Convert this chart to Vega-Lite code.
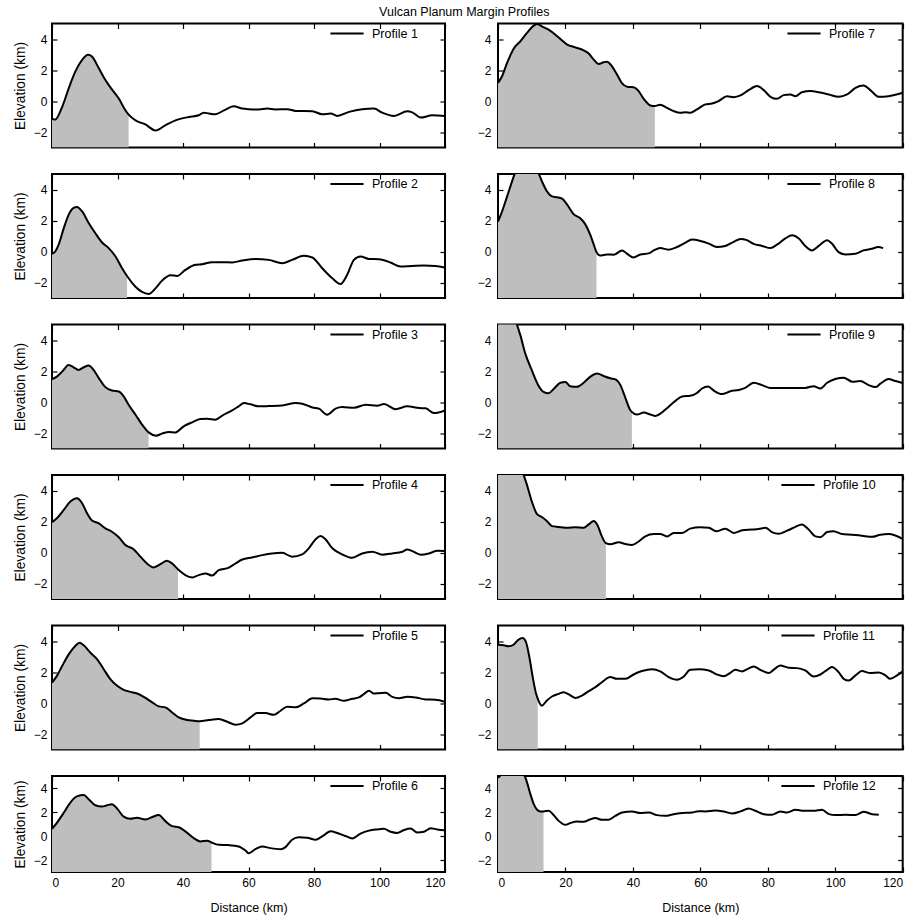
{
"$schema": "https://vega.github.io/schema/vega-lite/v6.json",
"padding": {"left": 12, "top": 5.5, "right": 5, "bottom": 2},
"title": {"text": "Vulcan Planum Margin Profiles", "fontSize": 12.5, "fontWeight": "normal", "color": "black", "offset": -3.5, "dx": 6, "anchor": "middle"},
"config": {
  "font": "Liberation Sans",
  "view": {"stroke": "black", "strokeWidth": 2},
  "axis": {"domain": false, "grid": false, "tickColor": "black", "tickWidth": 1.2, "tickSize": -5, "labelFontSize": 12, "labelColor": "black", "titleFontSize": 12.5, "titleFontWeight": "normal", "titleColor": "black", "labelPadding": 10},
  "axisLeft": {"titleFontSize": 13.8},
  "legend": {"symbolType": "stroke", "symbolSize": 1100, "symbolStrokeWidth": 2, "labelFontSize": 12.5, "labelColor": "black", "labelOffset": 7, "padding": 0, "orient": "none"}
},
"datasets": {
"p1": [{"d":0,"e":-1.14},{"d":1.0,"e":-1.20},{"d":3.1,"e":-0.38},{"d":5.1,"e":0.81},{"d":7.1,"e":1.90},{"d":9.2,"e":2.65},{"d":11.0,"e":2.98},{"d":12.2,"e":2.87},{"d":14.3,"e":2.11},{"d":16.3,"e":1.35},{"d":18.3,"e":0.75},{"d":20.4,"e":0.16},{"d":22.4,"e":-0.60},{"d":23.4,"e":-0.88},{"d":25.5,"e":-1.25},{"d":28.5,"e":-1.51},{"d":31.6,"e":-1.90},{"d":34.6,"e":-1.57},{"d":37.7,"e":-1.25},{"d":41.8,"e":-1.03},{"d":44.8,"e":-0.92},{"d":46.3,"e":-0.75},{"d":47.9,"e":-0.81},{"d":49.9,"e":-0.86},{"d":52.5,"e":-0.60},{"d":55.5,"e":-0.34},{"d":58.1,"e":-0.49},{"d":60.1,"e":-0.53},{"d":63.2,"e":-0.55},{"d":65.7,"e":-0.49},{"d":68.2,"e":-0.55},{"d":71.8,"e":-0.53},{"d":74.4,"e":-0.64},{"d":79.5,"e":-0.66},{"d":82.5,"e":-0.86},{"d":85.1,"e":-0.81},{"d":87.1,"e":-0.96},{"d":90.7,"e":-0.70},{"d":94.7,"e":-0.53},{"d":98.3,"e":-0.49},{"d":100.8,"e":-0.75},{"d":104.4,"e":-0.96},{"d":108.5,"e":-0.66},{"d":110.0,"e":-0.73},{"d":112.6,"e":-1.07},{"d":116.1,"e":-0.92},{"d":120,"e":-0.96}],
"p2": [{"d":0,"e":-0.15},{"d":1.0,"e":0},{"d":2.0,"e":0.43},{"d":3.6,"e":1.51},{"d":5.1,"e":2.38},{"d":6.6,"e":2.81},{"d":7.6,"e":2.87},{"d":9.2,"e":2.59},{"d":11.2,"e":1.84},{"d":13.2,"e":1.19},{"d":15.3,"e":0.58},{"d":17.3,"e":0.22},{"d":19.4,"e":-0.32},{"d":21.4,"e":-1.08},{"d":22.9,"e":-1.58},{"d":25.5,"e":-2.27},{"d":27.5,"e":-2.61},{"d":29.5,"e":-2.74},{"d":31.6,"e":-2.38},{"d":33.6,"e":-1.88},{"d":36.2,"e":-1.53},{"d":38.2,"e":-1.58},{"d":40.7,"e":-1.19},{"d":43.8,"e":-0.86},{"d":45.8,"e":-0.82},{"d":48.9,"e":-0.69},{"d":52.0,"e":-0.69},{"d":55.0,"e":-0.71},{"d":58.1,"e":-0.58},{"d":62.1,"e":-0.48},{"d":66.2,"e":-0.54},{"d":70.3,"e":-0.76},{"d":73.3,"e":-0.54},{"d":76.9,"e":-0.28},{"d":79.5,"e":-0.39},{"d":82.5,"e":-1.08},{"d":85.6,"e":-1.73},{"d":88.1,"e":-2.10},{"d":90.1,"e":-1.51},{"d":92.2,"e":-0.54},{"d":94.2,"e":-0.32},{"d":96.8,"e":-0.48},{"d":99.8,"e":-0.50},{"d":103.4,"e":-0.71},{"d":106.4,"e":-0.97},{"d":110.0,"e":-0.93},{"d":113.6,"e":-0.91},{"d":117.1,"e":-0.93},{"d":120,"e":-1.04}],
"p3": [{"d":0,"e":1.47},{"d":1.5,"e":1.64},{"d":3.1,"e":1.96},{"d":5.1,"e":2.39},{"d":6.6,"e":2.24},{"d":8.1,"e":2.07},{"d":9.7,"e":2.24},{"d":11.2,"e":2.35},{"d":12.7,"e":2.07},{"d":14.3,"e":1.54},{"d":16.3,"e":0.96},{"d":18.3,"e":0.74},{"d":20.4,"e":0.68},{"d":21.9,"e":0.36},{"d":23.4,"e":-0.18},{"d":25.5,"e":-0.82},{"d":27.5,"e":-1.46},{"d":29.5,"e":-1.96},{"d":31.8,"e":-2.17},{"d":33.6,"e":-2.04},{"d":35.7,"e":-1.93},{"d":37.7,"e":-1.96},{"d":40.2,"e":-1.57},{"d":42.8,"e":-1.31},{"d":45.3,"e":-1.10},{"d":47.4,"e":-1.08},{"d":49.9,"e":-1.14},{"d":52.0,"e":-0.88},{"d":55.0,"e":-0.54},{"d":57.0,"e":-0.28},{"d":58.6,"e":-0.07},{"d":60.6,"e":-0.15},{"d":63.2,"e":-0.28},{"d":66.2,"e":-0.26},{"d":70.3,"e":-0.22},{"d":74.4,"e":-0.07},{"d":76.4,"e":-0.11},{"d":79.5,"e":-0.35},{"d":81.5,"e":-0.43},{"d":84.0,"e":-0.82},{"d":86.6,"e":-0.43},{"d":88.6,"e":-0.33},{"d":92.2,"e":-0.37},{"d":95.8,"e":-0.18},{"d":99.3,"e":-0.24},{"d":101.4,"e":-0.13},{"d":104.9,"e":-0.46},{"d":108.5,"e":-0.28},{"d":112.1,"e":-0.39},{"d":114.1,"e":-0.41},{"d":116.6,"e":-0.71},{"d":120,"e":-0.54}],
"p4": [{"d":0,"e":1.95},{"d":1.5,"e":2.21},{"d":3.6,"e":2.75},{"d":5.6,"e":3.29},{"d":7.6,"e":3.50},{"d":9.2,"e":3.18},{"d":10.7,"e":2.53},{"d":12.2,"e":2.06},{"d":14.3,"e":1.88},{"d":16.3,"e":1.56},{"d":18.3,"e":1.34},{"d":20.4,"e":0.98},{"d":22.4,"e":0.48},{"d":25.0,"e":0.20},{"d":27.0,"e":-0.27},{"d":29.0,"e":-0.71},{"d":31.1,"e":-0.96},{"d":33.1,"e":-0.75},{"d":35.1,"e":-0.53},{"d":36.7,"e":-0.71},{"d":38.5,"e":-1.09},{"d":40.7,"e":-1.46},{"d":42.8,"e":-1.61},{"d":44.8,"e":-1.46},{"d":46.9,"e":-1.35},{"d":48.9,"e":-1.49},{"d":50.9,"e":-1.14},{"d":54.0,"e":-0.98},{"d":56.0,"e":-0.71},{"d":58.1,"e":-0.45},{"d":61.1,"e":-0.32},{"d":64.2,"e":-0.17},{"d":67.2,"e":-0.06},{"d":70.3,"e":-0.02},{"d":73.3,"e":-0.27},{"d":76.4,"e":-0.12},{"d":78.4,"e":0.27},{"d":80.5,"e":0.85},{"d":82.0,"e":1.06},{"d":83.5,"e":0.85},{"d":85.6,"e":0.27},{"d":88.6,"e":-0.12},{"d":91.7,"e":-0.34},{"d":94.7,"e":-0.06},{"d":97.8,"e":0.05},{"d":100.8,"e":-0.14},{"d":103.9,"e":-0.06},{"d":107.0,"e":0.05},{"d":108.5,"e":0.20},{"d":110.0,"e":0.09},{"d":112.6,"e":-0.14},{"d":115.1,"e":-0.06},{"d":117.7,"e":0.11},{"d":120,"e":0.09}],
"p5": [{"d":0,"e":1.32},{"d":1.5,"e":1.75},{"d":3.1,"e":2.39},{"d":5.1,"e":3.14},{"d":7.1,"e":3.68},{"d":8.4,"e":3.89},{"d":9.7,"e":3.72},{"d":11.7,"e":3.25},{"d":13.8,"e":2.82},{"d":15.8,"e":2.18},{"d":17.8,"e":1.54},{"d":19.9,"e":1.11},{"d":21.9,"e":0.85},{"d":23.9,"e":0.72},{"d":26.0,"e":0.61},{"d":28.0,"e":0.40},{"d":30.6,"e":0.04},{"d":32.6,"e":-0.22},{"d":34.6,"e":-0.28},{"d":36.7,"e":-0.61},{"d":38.7,"e":-0.93},{"d":41.3,"e":-1.10},{"d":43.3,"e":-1.14},{"d":45.1,"e":-1.18},{"d":47.9,"e":-1.10},{"d":50.9,"e":-1.04},{"d":53.5,"e":-1.21},{"d":56.0,"e":-1.40},{"d":58.1,"e":-1.31},{"d":60.6,"e":-0.93},{"d":62.6,"e":-0.65},{"d":65.2,"e":-0.65},{"d":67.7,"e":-0.76},{"d":69.8,"e":-0.50},{"d":71.8,"e":-0.24},{"d":74.4,"e":-0.28},{"d":76.9,"e":-0.03},{"d":79.5,"e":0.31},{"d":82.0,"e":0.29},{"d":84.5,"e":0.23},{"d":86.6,"e":0.27},{"d":89.1,"e":0.14},{"d":91.7,"e":0.27},{"d":93.7,"e":0.36},{"d":95.2,"e":0.57},{"d":96.8,"e":0.79},{"d":98.3,"e":0.61},{"d":99.8,"e":0.63},{"d":101.9,"e":0.66},{"d":103.9,"e":0.40},{"d":105.9,"e":0.31},{"d":108.5,"e":0.40},{"d":111.0,"e":0.36},{"d":114.1,"e":0.23},{"d":117.1,"e":0.21},{"d":120,"e":0.08}],
"p6": [{"d":0,"e":0.59},{"d":1.5,"e":1.10},{"d":3.6,"e":1.94},{"d":5.6,"e":2.79},{"d":7.6,"e":3.30},{"d":9.7,"e":3.41},{"d":11.2,"e":3.07},{"d":13.2,"e":2.56},{"d":15.3,"e":2.45},{"d":16.8,"e":2.56},{"d":18.3,"e":2.65},{"d":19.9,"e":2.28},{"d":21.9,"e":1.61},{"d":23.9,"e":1.44},{"d":26.0,"e":1.52},{"d":28.5,"e":1.38},{"d":30.6,"e":1.58},{"d":32.6,"e":1.75},{"d":34.6,"e":1.24},{"d":36.7,"e":0.82},{"d":38.7,"e":0.73},{"d":40.7,"e":0.39},{"d":43.3,"e":-0.17},{"d":45.3,"e":-0.45},{"d":47.4,"e":-0.39},{"d":48.7,"e":-0.54},{"d":50.9,"e":-0.73},{"d":54.0,"e":-0.76},{"d":57.0,"e":-0.87},{"d":59.1,"e":-1.21},{"d":60.1,"e":-1.44},{"d":62.1,"e":-1.10},{"d":64.2,"e":-0.87},{"d":66.7,"e":-1.01},{"d":69.8,"e":-1.10},{"d":71.3,"e":-0.93},{"d":73.3,"e":-0.31},{"d":75.4,"e":-0.11},{"d":77.9,"e":-0.14},{"d":80.5,"e":-0.31},{"d":82.5,"e":-0.03},{"d":85.1,"e":0.39},{"d":87.1,"e":0.25},{"d":89.6,"e":0.0},{"d":91.7,"e":-0.2},{"d":94.2,"e":0.2},{"d":96.8,"e":0.45},{"d":99.3,"e":0.55},{"d":101.3,"e":0.6},{"d":103.4,"e":0.35},{"d":105.4,"e":0.25},{"d":107.5,"e":0.5},{"d":109.5,"e":0.62},{"d":111.5,"e":0.3},{"d":113.6,"e":0.35},{"d":115.6,"e":0.65},{"d":117.6,"e":0.55},{"d":120,"e":0.48}],
"p7": [{"d":0,"e":1.17},{"d":1.2,"e":1.60},{"d":2.7,"e":2.46},{"d":4.6,"e":3.36},{"d":6.6,"e":3.85},{"d":8.6,"e":4.39},{"d":10.6,"e":4.86},{"d":11.6,"e":4.97},{"d":13.0,"e":4.82},{"d":15.0,"e":4.60},{"d":17.0,"e":4.28},{"d":18.5,"e":4.00},{"d":20.5,"e":3.64},{"d":22.9,"e":3.46},{"d":25.4,"e":3.27},{"d":26.9,"e":3.06},{"d":28.4,"e":2.67},{"d":29.9,"e":2.39},{"d":31.3,"e":2.50},{"d":32.3,"e":2.54},{"d":33.8,"e":2.24},{"d":35.3,"e":1.71},{"d":36.8,"e":1.13},{"d":38.3,"e":0.92},{"d":40.2,"e":0.89},{"d":41.7,"e":0.64},{"d":43.2,"e":0.14},{"d":45.2,"e":-0.29},{"d":46.5,"e":-0.33},{"d":48.1,"e":-0.24},{"d":50.1,"e":-0.44},{"d":52.1,"e":-0.65},{"d":54.1,"e":-0.76},{"d":55.6,"e":-0.72},{"d":57.0,"e":-0.76},{"d":59.0,"e":-0.54},{"d":61.5,"e":-0.22},{"d":63.5,"e":-0.16},{"d":65.4,"e":-0.01},{"d":67.9,"e":0.31},{"d":69.9,"e":0.25},{"d":71.9,"e":0.36},{"d":74.3,"e":0.70},{"d":76.8,"e":0.96},{"d":78.8,"e":0.70},{"d":80.8,"e":0.27},{"d":82.7,"e":0.14},{"d":84.7,"e":0.38},{"d":86.7,"e":0.42},{"d":88.2,"e":0.31},{"d":90.1,"e":0.57},{"d":92.6,"e":0.64},{"d":95.1,"e":0.57},{"d":98.1,"e":0.42},{"d":101.0,"e":0.27},{"d":103.5,"e":0.42},{"d":106.0,"e":0.85},{"d":108.4,"e":1.00},{"d":110.4,"e":0.70},{"d":112.9,"e":0.27},{"d":115.8,"e":0.31},{"d":117.8,"e":0.40},{"d":120,"e":0.53}],
"p8": [{"d":0,"e":1.93},{"d":1.2,"e":2.58},{"d":2.7,"e":3.56},{"d":4.2,"e":4.54},{"d":5.1,"e":5.09},{"d":6.1,"e":5.35},{"d":8.1,"e":5.45},{"d":10.6,"e":5.35},{"d":11.9,"e":5.09},{"d":13.0,"e":4.54},{"d":14.5,"e":3.89},{"d":16.0,"e":3.56},{"d":17.5,"e":3.50},{"d":19.0,"e":3.41},{"d":20.5,"e":3.02},{"d":22.4,"e":2.41},{"d":24.4,"e":2.14},{"d":25.9,"e":1.75},{"d":27.4,"e":1.05},{"d":28.4,"e":0.44},{"d":29.2,"e":-0.04},{"d":30.3,"e":-0.26},{"d":32.3,"e":-0.19},{"d":34.3,"e":-0.21},{"d":36.8,"e":0.07},{"d":38.3,"e":-0.15},{"d":40.2,"e":-0.39},{"d":42.2,"e":-0.19},{"d":44.7,"e":-0.12},{"d":46.2,"e":0.07},{"d":48.1,"e":0.22},{"d":50.6,"e":0.12},{"d":53.1,"e":0.29},{"d":55.6,"e":0.57},{"d":57.5,"e":0.77},{"d":60.0,"e":0.68},{"d":62.5,"e":0.51},{"d":64.9,"e":0.29},{"d":67.4,"e":0.36},{"d":69.9,"e":0.62},{"d":71.9,"e":0.81},{"d":73.8,"e":0.73},{"d":75.8,"e":0.49},{"d":78.3,"e":0.36},{"d":80.8,"e":0.22},{"d":82.7,"e":0.44},{"d":85.2,"e":0.84},{"d":87.2,"e":1.05},{"d":89.2,"e":0.84},{"d":91.1,"e":0.36},{"d":93.1,"e":0.07},{"d":95.1,"e":0.36},{"d":97.6,"e":0.73},{"d":99.0,"e":0.51},{"d":101.0,"e":-0.04},{"d":103.0,"e":-0.19},{"d":106.0,"e":-0.15},{"d":108.4,"e":0.07},{"d":110.9,"e":0.18},{"d":112.7,"e":0.29},{"d":114.2,"e":0.22}],
"p9": [{"d":0,"e":7.5},{"d":3.0,"e":6.3},{"d":5.6,"e":5.0},{"d":6.6,"e":4.33},{"d":8.1,"e":3.12},{"d":10.1,"e":2.01},{"d":12.1,"e":1.02},{"d":13.5,"e":0.65},{"d":15.0,"e":0.56},{"d":16.5,"e":0.84},{"d":18.5,"e":1.24},{"d":20.0,"e":1.29},{"d":21.4,"e":1.02},{"d":23.4,"e":0.98},{"d":25.4,"e":1.24},{"d":27.4,"e":1.64},{"d":29.4,"e":1.84},{"d":31.3,"e":1.68},{"d":33.3,"e":1.53},{"d":34.8,"e":1.46},{"d":36.3,"e":1.09},{"d":37.8,"e":0.25},{"d":39.2,"e":-0.52},{"d":39.7,"e":-0.65},{"d":41.2,"e":-0.81},{"d":43.2,"e":-0.68},{"d":45.2,"e":-0.81},{"d":46.7,"e":-0.90},{"d":48.6,"e":-0.68},{"d":50.6,"e":-0.30},{"d":52.6,"e":0.07},{"d":54.6,"e":0.36},{"d":57.0,"e":0.40},{"d":59.0,"e":0.58},{"d":60.5,"e":0.87},{"d":62.3,"e":1.00},{"d":64.0,"e":0.73},{"d":66.4,"e":0.51},{"d":68.9,"e":0.69},{"d":71.4,"e":0.78},{"d":73.3,"e":0.91},{"d":75.8,"e":1.24},{"d":78.3,"e":1.09},{"d":80.8,"e":0.91},{"d":84.2,"e":0.91},{"d":88.2,"e":0.91},{"d":91.1,"e":0.91},{"d":93.6,"e":1.02},{"d":95.6,"e":0.87},{"d":97.6,"e":1.24},{"d":100.0,"e":1.48},{"d":102.5,"e":1.57},{"d":105.0,"e":1.31},{"d":107.4,"e":1.35},{"d":109.9,"e":1.09},{"d":111.9,"e":0.96},{"d":113.4,"e":1.18},{"d":115.8,"e":1.48},{"d":117.8,"e":1.35},{"d":120,"e":1.22}],
"p10": [{"d":0,"e":7.0},{"d":4.0,"e":6.0},{"d":7.6,"e":5.0},{"d":8.6,"e":4.35},{"d":10.1,"e":3.24},{"d":11.6,"e":2.47},{"d":13.0,"e":2.29},{"d":14.5,"e":2.03},{"d":16.0,"e":1.70},{"d":18.0,"e":1.65},{"d":20.5,"e":1.59},{"d":22.9,"e":1.63},{"d":25.4,"e":1.59},{"d":26.9,"e":1.81},{"d":28.4,"e":2.03},{"d":29.4,"e":1.81},{"d":30.8,"e":1.04},{"d":32.0,"e":0.60},{"d":33.3,"e":0.53},{"d":35.8,"e":0.66},{"d":37.8,"e":0.55},{"d":39.7,"e":0.49},{"d":41.7,"e":0.71},{"d":43.7,"e":1.04},{"d":46.2,"e":1.19},{"d":48.1,"e":1.19},{"d":50.1,"e":1.04},{"d":52.1,"e":1.26},{"d":54.6,"e":1.26},{"d":57.0,"e":1.54},{"d":60.0,"e":1.63},{"d":62.5,"e":1.59},{"d":64.9,"e":1.37},{"d":67.4,"e":1.54},{"d":69.9,"e":1.26},{"d":72.4,"e":1.43},{"d":75.3,"e":1.48},{"d":77.3,"e":1.52},{"d":79.3,"e":1.59},{"d":81.2,"e":1.32},{"d":83.2,"e":1.21},{"d":85.7,"e":1.41},{"d":88.2,"e":1.65},{"d":90.1,"e":1.81},{"d":92.1,"e":1.48},{"d":94.1,"e":1.04},{"d":95.6,"e":0.99},{"d":97.6,"e":1.32},{"d":99.5,"e":1.37},{"d":102.0,"e":1.19},{"d":105.0,"e":1.15},{"d":107.9,"e":1.08},{"d":110.9,"e":1.01},{"d":113.4,"e":1.15},{"d":115.8,"e":1.19},{"d":117.8,"e":1.10},{"d":120,"e":0.88}],
"p11": [{"d":0,"e":3.76},{"d":1.7,"e":3.72},{"d":3.2,"e":3.66},{"d":4.6,"e":3.76},{"d":6.1,"e":4.09},{"d":7.3,"e":4.19},{"d":8.3,"e":3.93},{"d":9.3,"e":2.96},{"d":10.3,"e":1.67},{"d":11.3,"e":0.59},{"d":11.8,"e":0.27},{"d":13.0,"e":-0.17},{"d":14.5,"e":0.16},{"d":16.0,"e":0.42},{"d":18.0,"e":0.59},{"d":19.5,"e":0.70},{"d":21.0,"e":0.55},{"d":22.9,"e":0.33},{"d":24.9,"e":0.48},{"d":26.9,"e":0.76},{"d":28.9,"e":1.02},{"d":30.8,"e":1.34},{"d":33.3,"e":1.67},{"d":35.3,"e":1.56},{"d":37.8,"e":1.56},{"d":40.2,"e":1.84},{"d":42.7,"e":2.06},{"d":45.7,"e":2.17},{"d":48.1,"e":2.04},{"d":50.6,"e":1.67},{"d":53.1,"e":1.50},{"d":55.1,"e":1.71},{"d":57.0,"e":2.14},{"d":59.5,"e":2.17},{"d":62.5,"e":2.10},{"d":64.9,"e":1.84},{"d":66.9,"e":1.73},{"d":68.9,"e":1.95},{"d":70.4,"e":2.14},{"d":72.4,"e":2.04},{"d":73.8,"e":2.17},{"d":75.8,"e":2.36},{"d":77.8,"e":2.14},{"d":80.3,"e":1.93},{"d":81.7,"e":2.14},{"d":83.7,"e":2.42},{"d":86.2,"e":2.27},{"d":88.7,"e":2.25},{"d":91.1,"e":2.10},{"d":93.6,"e":1.71},{"d":95.6,"e":1.84},{"d":97.6,"e":2.14},{"d":99.0,"e":2.32},{"d":101.0,"e":1.99},{"d":102.5,"e":1.56},{"d":104.0,"e":1.45},{"d":106.0,"e":1.78},{"d":107.9,"e":2.06},{"d":110.4,"e":1.93},{"d":112.9,"e":1.97},{"d":114.9,"e":1.78},{"d":116.3,"e":1.56},{"d":118.3,"e":1.78},{"d":120,"e":2.04}],
"p12": [{"d":0,"e":4.85},{"d":0.7,"e":5.05},{"d":2.5,"e":5.3},{"d":5.5,"e":5.3},{"d":7.9,"e":5.0},{"d":8.6,"e":4.47},{"d":9.6,"e":3.49},{"d":10.6,"e":2.66},{"d":11.6,"e":2.19},{"d":12.6,"e":2.05},{"d":13.5,"e":2.05},{"d":15.0,"e":2.10},{"d":16.5,"e":1.74},{"d":18.0,"e":1.26},{"d":20.0,"e":0.93},{"d":21.4,"e":1.07},{"d":23.4,"e":1.21},{"d":25.4,"e":1.18},{"d":27.4,"e":1.40},{"d":28.9,"e":1.49},{"d":30.8,"e":1.35},{"d":32.8,"e":1.35},{"d":34.8,"e":1.68},{"d":36.8,"e":1.96},{"d":39.7,"e":2.05},{"d":42.2,"e":1.91},{"d":44.7,"e":1.96},{"d":47.1,"e":1.74},{"d":49.6,"e":1.68},{"d":52.1,"e":1.82},{"d":54.6,"e":1.91},{"d":57.5,"e":1.96},{"d":59.5,"e":2.07},{"d":61.5,"e":2.05},{"d":64.4,"e":2.13},{"d":66.9,"e":2.05},{"d":69.4,"e":1.88},{"d":71.9,"e":2.05},{"d":74.3,"e":2.30},{"d":76.3,"e":2.10},{"d":78.8,"e":1.82},{"d":81.2,"e":1.77},{"d":83.7,"e":2.05},{"d":85.7,"e":1.96},{"d":88.2,"e":2.19},{"d":90.6,"e":2.10},{"d":93.6,"e":2.10},{"d":96.1,"e":2.19},{"d":98.1,"e":1.82},{"d":100.0,"e":1.74},{"d":103.0,"e":1.77},{"d":106.0,"e":1.74},{"d":108.4,"e":2.02},{"d":110.9,"e":1.82},{"d":112.9,"e":1.77}]
},
"columns": 2,
"spacing": {"row": 26.5, "column": 53},
"bounds": "flush",
"resolve": {"scale": {"color": "independent"}, "legend": {"color": "independent"}},
"concat": [
 {"width": 393, "height": 124, "data": {"name": "p1"}, "resolve": {"axis": {"x": "independent", "y": "independent"}}, "layer": [
  {"transform": [{"filter": "datum.d <= 23.4"}], "mark": {"type": "area", "color": "#bebebe", "interpolate": "monotone", "clip": true},
   "encoding": {"x": {"field": "d", "type": "quantitative", "scale": {"domain": [0, 120], "nice": false}, "axis": {"orient": "bottom", "values": [0,20,40,60,80,100,120], "labels": false, "title": null, "minExtent": 0, "maxExtent": 0}},
    "y": {"field": "e", "type": "quantitative", "scale": {"domain": [-3, 5], "nice": false, "zero": false}, "axis": {"orient": "left", "values": [-2,0,2,4], "title": "Elevation (km)", "minExtent": 17, "maxExtent": 17, "titlePadding": 8}},
    "y2": {"datum": -3}}},
  {"mark": {"type": "line", "strokeWidth": 2, "interpolate": "monotone", "clip": true},
   "encoding": {"x": {"field": "d", "type": "quantitative", "axis": {"orient": "top", "values": [0,20,40,60,80,100,120], "labels": false, "title": null, "minExtent": 0, "maxExtent": 0}},
    "y": {"field": "e", "type": "quantitative", "axis": {"orient": "right", "values": [-2,0,2,4], "labels": false, "title": null, "minExtent": 0, "maxExtent": 0}},
    "color": {"datum": "Profile 1", "scale": {"range": ["black"]}, "legend": {"title": null, "orient": "none", "legendX": 277, "legendY": -8}}}}
 ]},
 {"width": 404.7, "height": 124, "data": {"name": "p7"}, "resolve": {"axis": {"x": "independent", "y": "independent"}}, "layer": [
  {"transform": [{"filter": "datum.d <= 46.5"}], "mark": {"type": "area", "color": "#bebebe", "interpolate": "monotone", "clip": true},
   "encoding": {"x": {"field": "d", "type": "quantitative", "scale": {"domain": [0, 120], "nice": false}, "axis": {"orient": "bottom", "values": [0,20,40,60,80,100,120], "labels": false, "title": null, "minExtent": 0, "maxExtent": 0}},
    "y": {"field": "e", "type": "quantitative", "scale": {"domain": [-3, 5], "nice": false, "zero": false}, "axis": {"orient": "left", "values": [-2,0,2,4], "title": null, "labelPadding": 12, "minExtent": 17, "maxExtent": 17}},
    "y2": {"datum": -3}}},
  {"mark": {"type": "line", "strokeWidth": 2, "interpolate": "monotone", "clip": true},
   "encoding": {"x": {"field": "d", "type": "quantitative", "axis": {"orient": "top", "values": [0,20,40,60,80,100,120], "labels": false, "title": null, "minExtent": 0, "maxExtent": 0}},
    "y": {"field": "e", "type": "quantitative", "axis": {"orient": "right", "values": [-2,0,2,4], "labels": false, "title": null, "minExtent": 0, "maxExtent": 0}},
    "color": {"datum": "Profile 7", "scale": {"range": ["black"]}, "legend": {"title": null, "orient": "none", "legendX": 288, "legendY": -8}}}}
 ]},
 {"width": 393, "height": 124, "data": {"name": "p2"}, "resolve": {"axis": {"x": "independent", "y": "independent"}}, "layer": [
  {"transform": [{"filter": "datum.d <= 22.9"}], "mark": {"type": "area", "color": "#bebebe", "interpolate": "monotone", "clip": true},
   "encoding": {"x": {"field": "d", "type": "quantitative", "scale": {"domain": [0, 120], "nice": false}, "axis": {"orient": "bottom", "values": [0,20,40,60,80,100,120], "labels": false, "title": null, "minExtent": 0, "maxExtent": 0}},
    "y": {"field": "e", "type": "quantitative", "scale": {"domain": [-3, 5], "nice": false, "zero": false}, "axis": {"orient": "left", "values": [-2,0,2,4], "title": "Elevation (km)", "minExtent": 17, "maxExtent": 17, "titlePadding": 8}},
    "y2": {"datum": -3}}},
  {"mark": {"type": "line", "strokeWidth": 2, "interpolate": "monotone", "clip": true},
   "encoding": {"x": {"field": "d", "type": "quantitative", "axis": {"orient": "top", "values": [0,20,40,60,80,100,120], "labels": false, "title": null, "minExtent": 0, "maxExtent": 0}},
    "y": {"field": "e", "type": "quantitative", "axis": {"orient": "right", "values": [-2,0,2,4], "labels": false, "title": null, "minExtent": 0, "maxExtent": 0}},
    "color": {"datum": "Profile 2", "scale": {"range": ["black"]}, "legend": {"title": null, "orient": "none", "legendX": 277, "legendY": -8}}}}
 ]},
 {"width": 404.7, "height": 124, "data": {"name": "p8"}, "resolve": {"axis": {"x": "independent", "y": "independent"}}, "layer": [
  {"transform": [{"filter": "datum.d <= 29.2"}], "mark": {"type": "area", "color": "#bebebe", "interpolate": "monotone", "clip": true},
   "encoding": {"x": {"field": "d", "type": "quantitative", "scale": {"domain": [0, 120], "nice": false}, "axis": {"orient": "bottom", "values": [0,20,40,60,80,100,120], "labels": false, "title": null, "minExtent": 0, "maxExtent": 0}},
    "y": {"field": "e", "type": "quantitative", "scale": {"domain": [-3, 5], "nice": false, "zero": false}, "axis": {"orient": "left", "values": [-2,0,2,4], "title": null, "labelPadding": 12, "minExtent": 17, "maxExtent": 17}},
    "y2": {"datum": -3}}},
  {"mark": {"type": "line", "strokeWidth": 2, "interpolate": "monotone", "clip": true},
   "encoding": {"x": {"field": "d", "type": "quantitative", "axis": {"orient": "top", "values": [0,20,40,60,80,100,120], "labels": false, "title": null, "minExtent": 0, "maxExtent": 0}},
    "y": {"field": "e", "type": "quantitative", "axis": {"orient": "right", "values": [-2,0,2,4], "labels": false, "title": null, "minExtent": 0, "maxExtent": 0}},
    "color": {"datum": "Profile 8", "scale": {"range": ["black"]}, "legend": {"title": null, "orient": "none", "legendX": 288, "legendY": -8}}}}
 ]},
 {"width": 393, "height": 124, "data": {"name": "p3"}, "resolve": {"axis": {"x": "independent", "y": "independent"}}, "layer": [
  {"transform": [{"filter": "datum.d <= 29.5"}], "mark": {"type": "area", "color": "#bebebe", "interpolate": "monotone", "clip": true},
   "encoding": {"x": {"field": "d", "type": "quantitative", "scale": {"domain": [0, 120], "nice": false}, "axis": {"orient": "bottom", "values": [0,20,40,60,80,100,120], "labels": false, "title": null, "minExtent": 0, "maxExtent": 0}},
    "y": {"field": "e", "type": "quantitative", "scale": {"domain": [-3, 5], "nice": false, "zero": false}, "axis": {"orient": "left", "values": [-2,0,2,4], "title": "Elevation (km)", "minExtent": 17, "maxExtent": 17, "titlePadding": 8}},
    "y2": {"datum": -3}}},
  {"mark": {"type": "line", "strokeWidth": 2, "interpolate": "monotone", "clip": true},
   "encoding": {"x": {"field": "d", "type": "quantitative", "axis": {"orient": "top", "values": [0,20,40,60,80,100,120], "labels": false, "title": null, "minExtent": 0, "maxExtent": 0}},
    "y": {"field": "e", "type": "quantitative", "axis": {"orient": "right", "values": [-2,0,2,4], "labels": false, "title": null, "minExtent": 0, "maxExtent": 0}},
    "color": {"datum": "Profile 3", "scale": {"range": ["black"]}, "legend": {"title": null, "orient": "none", "legendX": 277, "legendY": -8}}}}
 ]},
 {"width": 404.7, "height": 124, "data": {"name": "p9"}, "resolve": {"axis": {"x": "independent", "y": "independent"}}, "layer": [
  {"transform": [{"filter": "datum.d <= 39.7"}], "mark": {"type": "area", "color": "#bebebe", "interpolate": "monotone", "clip": true},
   "encoding": {"x": {"field": "d", "type": "quantitative", "scale": {"domain": [0, 120], "nice": false}, "axis": {"orient": "bottom", "values": [0,20,40,60,80,100,120], "labels": false, "title": null, "minExtent": 0, "maxExtent": 0}},
    "y": {"field": "e", "type": "quantitative", "scale": {"domain": [-3, 5], "nice": false, "zero": false}, "axis": {"orient": "left", "values": [-2,0,2,4], "title": null, "labelPadding": 12, "minExtent": 17, "maxExtent": 17}},
    "y2": {"datum": -3}}},
  {"mark": {"type": "line", "strokeWidth": 2, "interpolate": "monotone", "clip": true},
   "encoding": {"x": {"field": "d", "type": "quantitative", "axis": {"orient": "top", "values": [0,20,40,60,80,100,120], "labels": false, "title": null, "minExtent": 0, "maxExtent": 0}},
    "y": {"field": "e", "type": "quantitative", "axis": {"orient": "right", "values": [-2,0,2,4], "labels": false, "title": null, "minExtent": 0, "maxExtent": 0}},
    "color": {"datum": "Profile 9", "scale": {"range": ["black"]}, "legend": {"title": null, "orient": "none", "legendX": 288, "legendY": -8}}}}
 ]},
 {"width": 393, "height": 124, "data": {"name": "p4"}, "resolve": {"axis": {"x": "independent", "y": "independent"}}, "layer": [
  {"transform": [{"filter": "datum.d <= 38.5"}], "mark": {"type": "area", "color": "#bebebe", "interpolate": "monotone", "clip": true},
   "encoding": {"x": {"field": "d", "type": "quantitative", "scale": {"domain": [0, 120], "nice": false}, "axis": {"orient": "bottom", "values": [0,20,40,60,80,100,120], "labels": false, "title": null, "minExtent": 0, "maxExtent": 0}},
    "y": {"field": "e", "type": "quantitative", "scale": {"domain": [-3, 5], "nice": false, "zero": false}, "axis": {"orient": "left", "values": [-2,0,2,4], "title": "Elevation (km)", "minExtent": 17, "maxExtent": 17, "titlePadding": 8}},
    "y2": {"datum": -3}}},
  {"mark": {"type": "line", "strokeWidth": 2, "interpolate": "monotone", "clip": true},
   "encoding": {"x": {"field": "d", "type": "quantitative", "axis": {"orient": "top", "values": [0,20,40,60,80,100,120], "labels": false, "title": null, "minExtent": 0, "maxExtent": 0}},
    "y": {"field": "e", "type": "quantitative", "axis": {"orient": "right", "values": [-2,0,2,4], "labels": false, "title": null, "minExtent": 0, "maxExtent": 0}},
    "color": {"datum": "Profile 4", "scale": {"range": ["black"]}, "legend": {"title": null, "orient": "none", "legendX": 277, "legendY": -8}}}}
 ]},
 {"width": 404.7, "height": 124, "data": {"name": "p10"}, "resolve": {"axis": {"x": "independent", "y": "independent"}}, "layer": [
  {"transform": [{"filter": "datum.d <= 32.0"}], "mark": {"type": "area", "color": "#bebebe", "interpolate": "monotone", "clip": true},
   "encoding": {"x": {"field": "d", "type": "quantitative", "scale": {"domain": [0, 120], "nice": false}, "axis": {"orient": "bottom", "values": [0,20,40,60,80,100,120], "labels": false, "title": null, "minExtent": 0, "maxExtent": 0}},
    "y": {"field": "e", "type": "quantitative", "scale": {"domain": [-3, 5], "nice": false, "zero": false}, "axis": {"orient": "left", "values": [-2,0,2,4], "title": null, "labelPadding": 12, "minExtent": 17, "maxExtent": 17}},
    "y2": {"datum": -3}}},
  {"mark": {"type": "line", "strokeWidth": 2, "interpolate": "monotone", "clip": true},
   "encoding": {"x": {"field": "d", "type": "quantitative", "axis": {"orient": "top", "values": [0,20,40,60,80,100,120], "labels": false, "title": null, "minExtent": 0, "maxExtent": 0}},
    "y": {"field": "e", "type": "quantitative", "axis": {"orient": "right", "values": [-2,0,2,4], "labels": false, "title": null, "minExtent": 0, "maxExtent": 0}},
    "color": {"datum": "Profile 10", "scale": {"range": ["black"]}, "legend": {"title": null, "orient": "none", "legendX": 282, "legendY": -8}}}}
 ]},
 {"width": 393, "height": 124, "data": {"name": "p5"}, "resolve": {"axis": {"x": "independent", "y": "independent"}}, "layer": [
  {"transform": [{"filter": "datum.d <= 45.1"}], "mark": {"type": "area", "color": "#bebebe", "interpolate": "monotone", "clip": true},
   "encoding": {"x": {"field": "d", "type": "quantitative", "scale": {"domain": [0, 120], "nice": false}, "axis": {"orient": "bottom", "values": [0,20,40,60,80,100,120], "labels": false, "title": null, "minExtent": 0, "maxExtent": 0}},
    "y": {"field": "e", "type": "quantitative", "scale": {"domain": [-3, 5], "nice": false, "zero": false}, "axis": {"orient": "left", "values": [-2,0,2,4], "title": "Elevation (km)", "minExtent": 17, "maxExtent": 17, "titlePadding": 8}},
    "y2": {"datum": -3}}},
  {"mark": {"type": "line", "strokeWidth": 2, "interpolate": "monotone", "clip": true},
   "encoding": {"x": {"field": "d", "type": "quantitative", "axis": {"orient": "top", "values": [0,20,40,60,80,100,120], "labels": false, "title": null, "minExtent": 0, "maxExtent": 0}},
    "y": {"field": "e", "type": "quantitative", "axis": {"orient": "right", "values": [-2,0,2,4], "labels": false, "title": null, "minExtent": 0, "maxExtent": 0}},
    "color": {"datum": "Profile 5", "scale": {"range": ["black"]}, "legend": {"title": null, "orient": "none", "legendX": 277, "legendY": -8}}}}
 ]},
 {"width": 404.7, "height": 124, "data": {"name": "p11"}, "resolve": {"axis": {"x": "independent", "y": "independent"}}, "layer": [
  {"transform": [{"filter": "datum.d <= 11.8"}], "mark": {"type": "area", "color": "#bebebe", "interpolate": "monotone", "clip": true},
   "encoding": {"x": {"field": "d", "type": "quantitative", "scale": {"domain": [0, 120], "nice": false}, "axis": {"orient": "bottom", "values": [0,20,40,60,80,100,120], "labels": false, "title": null, "minExtent": 0, "maxExtent": 0}},
    "y": {"field": "e", "type": "quantitative", "scale": {"domain": [-3, 5], "nice": false, "zero": false}, "axis": {"orient": "left", "values": [-2,0,2,4], "title": null, "labelPadding": 12, "minExtent": 17, "maxExtent": 17}},
    "y2": {"datum": -3}}},
  {"mark": {"type": "line", "strokeWidth": 2, "interpolate": "monotone", "clip": true},
   "encoding": {"x": {"field": "d", "type": "quantitative", "axis": {"orient": "top", "values": [0,20,40,60,80,100,120], "labels": false, "title": null, "minExtent": 0, "maxExtent": 0}},
    "y": {"field": "e", "type": "quantitative", "axis": {"orient": "right", "values": [-2,0,2,4], "labels": false, "title": null, "minExtent": 0, "maxExtent": 0}},
    "color": {"datum": "Profile 11", "scale": {"range": ["black"]}, "legend": {"title": null, "orient": "none", "legendX": 282, "legendY": -8}}}}
 ]},
 {"width": 393, "height": 96, "data": {"name": "p6"}, "resolve": {"axis": {"x": "independent", "y": "independent"}}, "layer": [
  {"transform": [{"filter": "datum.d <= 48.7"}], "mark": {"type": "area", "color": "#bebebe", "interpolate": "monotone", "clip": true},
   "encoding": {"x": {"field": "d", "type": "quantitative", "scale": {"domain": [0, 120], "nice": false}, "axis": {"orient": "bottom", "values": [0,20,40,60,80,100,120], "title": "Distance (km)", "labelPadding": 10.5, "titlePadding": 13}},
    "y": {"field": "e", "type": "quantitative", "scale": {"domain": [-3, 5], "nice": false, "zero": false}, "axis": {"orient": "left", "values": [-2,0,2,4], "title": "Elevation (km)", "minExtent": 17, "maxExtent": 17, "titlePadding": 8}},
    "y2": {"datum": -3}}},
  {"mark": {"type": "line", "strokeWidth": 2, "interpolate": "monotone", "clip": true},
   "encoding": {"x": {"field": "d", "type": "quantitative", "axis": {"orient": "top", "values": [0,20,40,60,80,100,120], "labels": false, "title": null, "minExtent": 0, "maxExtent": 0}},
    "y": {"field": "e", "type": "quantitative", "axis": {"orient": "right", "values": [-2,0,2,4], "labels": false, "title": null, "minExtent": 0, "maxExtent": 0}},
    "color": {"datum": "Profile 6", "scale": {"range": ["black"]}, "legend": {"title": null, "orient": "none", "legendX": 277, "legendY": -8}}}}
 ]},
 {"width": 404.7, "height": 96, "data": {"name": "p12"}, "resolve": {"axis": {"x": "independent", "y": "independent"}}, "layer": [
  {"transform": [{"filter": "datum.d <= 13.5"}], "mark": {"type": "area", "color": "#bebebe", "interpolate": "monotone", "clip": true},
   "encoding": {"x": {"field": "d", "type": "quantitative", "scale": {"domain": [0, 120], "nice": false}, "axis": {"orient": "bottom", "values": [0,20,40,60,80,100,120], "title": "Distance (km)", "labelPadding": 10.5, "titlePadding": 13}},
    "y": {"field": "e", "type": "quantitative", "scale": {"domain": [-3, 5], "nice": false, "zero": false}, "axis": {"orient": "left", "values": [-2,0,2,4], "title": null, "labelPadding": 12, "minExtent": 17, "maxExtent": 17}},
    "y2": {"datum": -3}}},
  {"mark": {"type": "line", "strokeWidth": 2, "interpolate": "monotone", "clip": true},
   "encoding": {"x": {"field": "d", "type": "quantitative", "axis": {"orient": "top", "values": [0,20,40,60,80,100,120], "labels": false, "title": null, "minExtent": 0, "maxExtent": 0}},
    "y": {"field": "e", "type": "quantitative", "axis": {"orient": "right", "values": [-2,0,2,4], "labels": false, "title": null, "minExtent": 0, "maxExtent": 0}},
    "color": {"datum": "Profile 12", "scale": {"range": ["black"]}, "legend": {"title": null, "orient": "none", "legendX": 282, "legendY": -8}}}}
 ]}
]
}
